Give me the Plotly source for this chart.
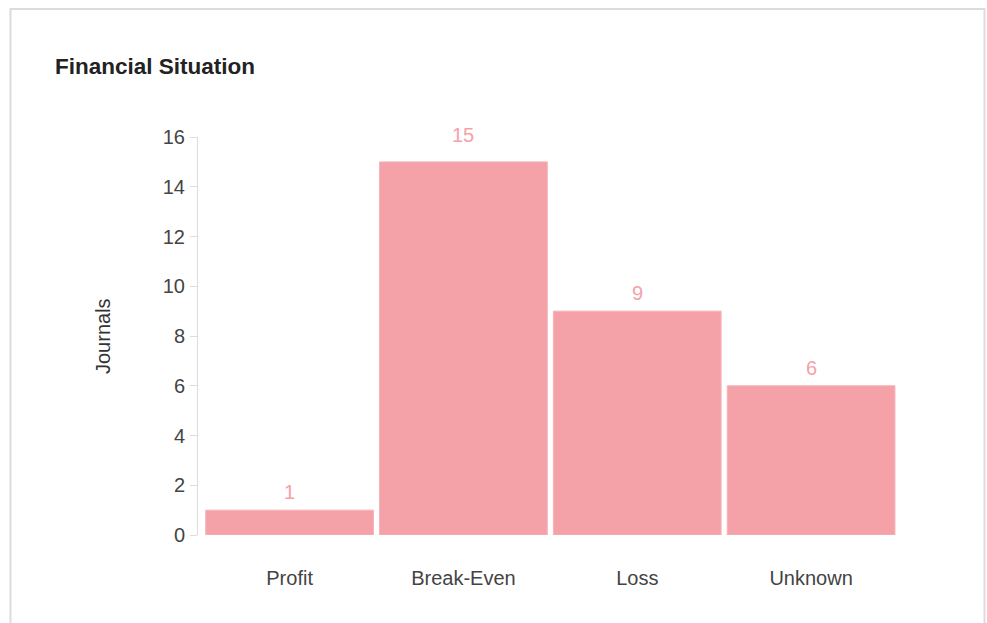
import plotly.graph_objects as go

categories = ["Profit", "Break-Even", "Loss", "Unknown"]
journals = [1, 15, 9, 6]
y_ticks = [0, 2, 4, 6, 8, 10, 12, 14, 16]

BAR = "#f4a1a8"
W, H = 987, 623
L, R, T, B = 198, 898, 137, 535
pw, ph = R - L, B - T
FONT = "Liberation Sans, Arial"


def px_x(p):
    return (p - L) / pw


def px_y(p):
    return (B - p) / ph


fig = go.Figure()
fig.add_trace(go.Bar(
    x=categories, y=journals,
    marker=dict(color=BAR, line=dict(width=1, color="#f6b3b8")),
    hoverinfo="x+y",
))

top = max(journals)
for c, v in zip(categories, journals):
    fig.add_annotation(x=c, y=v, text=str(v), showarrow=False,
                       yanchor="middle", yshift=27 if v == top else 18,
                       font=dict(size=20, color=BAR, family=FONT))

fig.add_shape(type="rect", xref="paper", yref="paper",
              x0=px_x(10.5), x1=px_x(984.5), y0=px_y(680), y1=px_y(9),
              line=dict(color="#dcdcdc", width=2), fillcolor="rgba(0,0,0,0)", layer="below")

fig.add_annotation(xref="paper", yref="paper", x=px_x(103), y=0.5,
                   xanchor="center", yanchor="middle",
                   text="Journals", textangle=-90, showarrow=False,
                   font=dict(size=20, color="#333", family=FONT))

fig.update_layout(
    width=W, height=H,
    margin=dict(l=L, r=W - R, t=T, b=H - B, pad=0),
    paper_bgcolor="white", plot_bgcolor="white",
    font=dict(family=FONT, size=20, color="#444"),
    title=dict(text="<b>Financial Situation</b>", xref="container", yref="container",
               x=55 / W, y=1 - 66 / H, xanchor="left", yanchor="middle",
               font=dict(size=22.5, color="#222")),
    bargap=0.035,
    showlegend=False,
    xaxis=dict(range=[-0.527, 3.5], showline=False, showgrid=False, zeroline=False,
               ticks="", ticklabelstandoff=29, tickfont=dict(size=20, color="#444")),
    yaxis=dict(range=[0, 16], tickvals=y_ticks, showgrid=False, zeroline=False,
               showline=True, linecolor="#dddddd", linewidth=1,
               ticks="outside", ticklen=7, tickcolor="#dddddd",
               ticklabelstandoff=1, tickfont=dict(size=20, color="#444")),
)

fig.write_html(
    "out.html",
    config={"displayModeBar": False},
    post_script="document.body.style.margin='0';document.body.style.overflow='hidden';",
)
